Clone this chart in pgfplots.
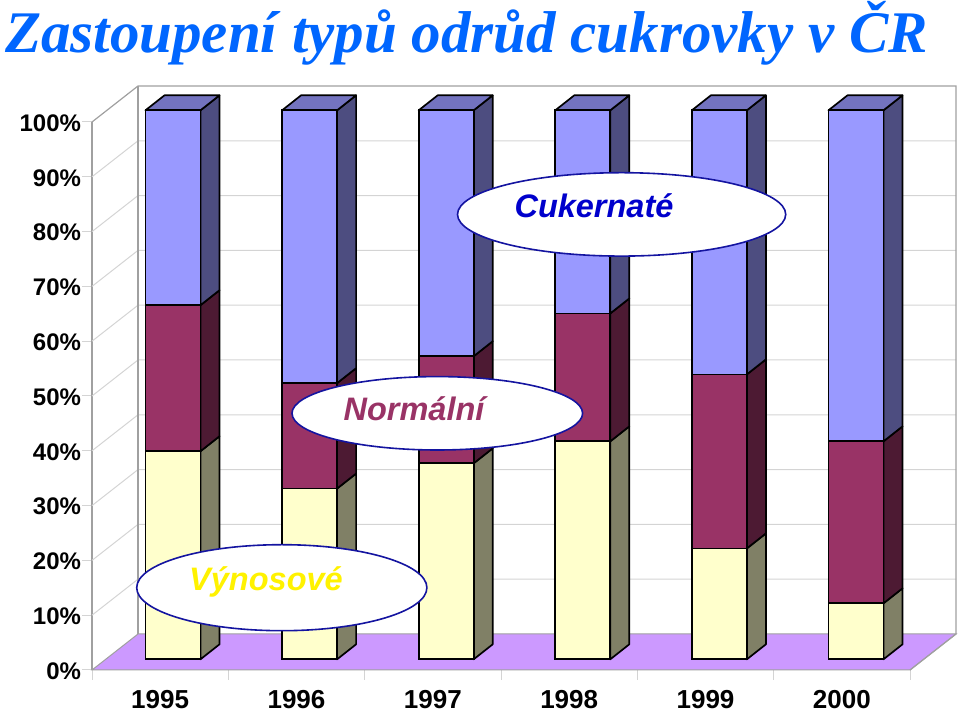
\documentclass[border=0pt]{standalone}
\usepackage{pgfplots}
\pgfplotsset{compat=1.18}
\usepackage{fontspec}
\setmainfont{Liberation Sans}
\newfontfamily\titlefont{Liberation Serif}
\definecolor{cBlue}{HTML}{9999FF}\definecolor{cBlueS}{HTML}{4D4D80}\definecolor{cBlueT}{HTML}{7373BF}
\definecolor{cRed}{HTML}{993366}\definecolor{cRedS}{HTML}{4D1A33}
\definecolor{cYel}{HTML}{FFFFCC}\definecolor{cYelS}{HTML}{808066}
\definecolor{cFloor}{HTML}{CC99FF}\definecolor{cGrid}{HTML}{D4D4D4}\definecolor{cWall}{HTML}{A0A0A0}
\definecolor{cTitle}{HTML}{0066FF}\definecolor{cEdge}{HTML}{1414A0}\definecolor{cCuk}{HTML}{0000CC}
\pgfplotsset{
 barplane/.style={
  scale only axis, at={(104.7pt,54.7pt)}, anchor=south west,
  width=819.6pt, height=549pt, xmin=-0.5, xmax=5.5, ymin=0, ymax=100,
  clip=false, hide axis},
 sd/.style={draw=black, line width=1.7pt, line join=round, mark=none, fill=#1, forget plot},
 wallg/.style={draw=cGrid, line width=1pt, mark=none, forget plot}}
\begin{document}
\begin{tikzpicture}[x=1pt,y=1pt]
\path[use as bounding box] (0,0) rectangle (960,714);
\node[anchor=base west, inner sep=0pt, text=cTitle, font=\fontsize{59}{59}\selectfont\titlefont\bfseries\itshape] at (5,661) {Zastoupení typů odrůd cukrovky v ČR};
% walls, floor, grid and the value axis
\begin{axis}[scale only axis, at={(92pt,44pt)}, anchor=south west, width=818pt, height=548pt,
  xmin=0, xmax=6, ymin=0, ymax=100, clip=false,
  axis x line=bottom, axis y line=left, axis line style={draw=none, -},
  x axis line style={draw=none}, y axis line style={draw=cWall, line width=1.2pt},
  tick align=outside, major tick length=10pt, tick style={draw=cGrid, line width=1pt},
  xtick={0,1,2,3,4,5,6}, x tick label as interval=true,
  xticklabels={1995,1996,1997,1998,1999,2000},
  ytick={0,10,20,30,40,50,60,70,80,90,100},
  yticklabels={0\%,10\%,20\%,30\%,40\%,50\%,60\%,70\%,80\%,90\%,100\%},
  y tick label style={font=\fontsize{24}{24}\selectfont\bfseries, xshift=2.5pt, yshift=-1pt},
  x tick label style={font=\fontsize{26}{26}\selectfont\bfseries, inner sep=0pt, yshift=-10pt}]
\addplot[draw=cWall, line width=1pt, fill=cFloor, mark=none, forget plot] coordinates {(0,0)(0.3374,6.57)(6.3374,6.57)(6,0)} -- cycle;
\addplot[wallg] coordinates {(0,10)(0.3374,16.57)(6.3374,16.57)};
\addplot[wallg] coordinates {(0,20)(0.3374,26.57)(6.3374,26.57)};
\addplot[wallg] coordinates {(0,30)(0.3374,36.57)(6.3374,36.57)};
\addplot[wallg] coordinates {(0,40)(0.3374,46.57)(6.3374,46.57)};
\addplot[wallg] coordinates {(0,50)(0.3374,56.57)(6.3374,56.57)};
\addplot[wallg] coordinates {(0,60)(0.3374,66.57)(6.3374,66.57)};
\addplot[wallg] coordinates {(0,70)(0.3374,76.57)(6.3374,76.57)};
\addplot[wallg] coordinates {(0,80)(0.3374,86.57)(6.3374,86.57)};
\addplot[wallg] coordinates {(0,90)(0.3374,96.57)(6.3374,96.57)};
\addplot[draw=cWall, line width=1.2pt, mark=none, forget plot] coordinates {(0,100)(0.3374,106.57)(6.3374,106.57)(6.3374,6.57)(6,0)};
\addplot[draw=cWall, line width=1.2pt, mark=none, forget plot] coordinates {(0.3374,6.57)(0.3374,106.57)};
\end{axis}
% side and top faces of the bars
\begin{axis}[barplane]
\addplot[sd=cYelS] coordinates {(0.2013,0)(0.3404,2.73)(0.3404,40.63)(0.2013,37.9)} -- cycle;
\addplot[sd=cYelS] coordinates {(1.2013,0)(1.3404,2.73)(1.3404,33.83)(1.2013,31.1)} -- cycle;
\addplot[sd=cYelS] coordinates {(2.2013,0)(2.3404,2.73)(2.3404,38.43)(2.2013,35.7)} -- cycle;
\addplot[sd=cYelS] coordinates {(3.2013,0)(3.3404,2.73)(3.3404,42.43)(3.2013,39.7)} -- cycle;
\addplot[sd=cYelS] coordinates {(4.2013,0)(4.3404,2.73)(4.3404,22.93)(4.2013,20.2)} -- cycle;
\addplot[sd=cYelS] coordinates {(5.2013,0)(5.3404,2.73)(5.3404,12.93)(5.2013,10.2)} -- cycle;
\addplot[sd=cRedS] coordinates {(0.2013,37.9)(0.3404,40.63)(0.3404,67.23)(0.2013,64.5)} -- cycle;
\addplot[sd=cRedS] coordinates {(1.2013,31.1)(1.3404,33.83)(1.3404,53.03)(1.2013,50.3)} -- cycle;
\addplot[sd=cRedS] coordinates {(2.2013,35.7)(2.3404,38.43)(2.3404,57.93)(2.2013,55.2)} -- cycle;
\addplot[sd=cRedS] coordinates {(3.2013,39.7)(3.3404,42.43)(3.3404,65.73)(3.2013,63.0)} -- cycle;
\addplot[sd=cRedS] coordinates {(4.2013,20.2)(4.3404,22.93)(4.3404,54.63)(4.2013,51.9)} -- cycle;
\addplot[sd=cRedS] coordinates {(5.2013,10.2)(5.3404,12.93)(5.3404,42.43)(5.2013,39.7)} -- cycle;
\addplot[sd=cBlueS] coordinates {(0.2013,64.5)(0.3404,67.23)(0.3404,102.73)(0.2013,100)} -- cycle;
\addplot[sd=cBlueS] coordinates {(1.2013,50.3)(1.3404,53.03)(1.3404,102.73)(1.2013,100)} -- cycle;
\addplot[sd=cBlueS] coordinates {(2.2013,55.2)(2.3404,57.93)(2.3404,102.73)(2.2013,100)} -- cycle;
\addplot[sd=cBlueS] coordinates {(3.2013,63.0)(3.3404,65.73)(3.3404,102.73)(3.2013,100)} -- cycle;
\addplot[sd=cBlueS] coordinates {(4.2013,51.9)(4.3404,54.63)(4.3404,102.73)(4.2013,100)} -- cycle;
\addplot[sd=cBlueS] coordinates {(5.2013,39.7)(5.3404,42.43)(5.3404,102.73)(5.2013,100)} -- cycle;
\addplot[sd=cBlueT] coordinates {(-0.2013,100)(-0.0622,102.73)(0.3404,102.73)(0.2013,100)} -- cycle;
\addplot[sd=cBlueT] coordinates {(0.7987,100)(0.9378,102.73)(1.3404,102.73)(1.2013,100)} -- cycle;
\addplot[sd=cBlueT] coordinates {(1.7987,100)(1.9378,102.73)(2.3404,102.73)(2.2013,100)} -- cycle;
\addplot[sd=cBlueT] coordinates {(2.7987,100)(2.9378,102.73)(3.3404,102.73)(3.2013,100)} -- cycle;
\addplot[sd=cBlueT] coordinates {(3.7987,100)(3.9378,102.73)(4.3404,102.73)(4.2013,100)} -- cycle;
\addplot[sd=cBlueT] coordinates {(4.7987,100)(4.9378,102.73)(5.3404,102.73)(5.2013,100)} -- cycle;
\end{axis}
% front faces: stacked shares
\begin{axis}[barplane, ybar stacked, bar width=55pt]
\addplot[draw=black, line width=1.7pt, fill=cYel] coordinates {(0,37.9)(1,31.1)(2,35.7)(3,39.7)(4,20.2)(5,10.2)};
\addplot[draw=black, line width=1.7pt, fill=cRed] coordinates {(0,26.6)(1,19.2)(2,19.5)(3,23.3)(4,31.7)(5,29.5)};
\addplot[draw=black, line width=1.7pt, fill=cBlue] coordinates {(0,35.5)(1,49.7)(2,44.8)(3,37.0)(4,48.1)(5,60.3)};
\end{axis}
% callouts
\draw[draw=cEdge, line width=1.6pt, fill=white] (621.6,499.6) ellipse [x radius=164.1, y radius=41.7];
\node[anchor=base, inner sep=0pt, text=cCuk, font=\fontsize{32.5}{32.5}\selectfont\bfseries\itshape] at (594,496) {Cukernaté};
\draw[draw=cEdge, line width=1.6pt, fill=white] (437.3,300.7) ellipse [x radius=145.3, y radius=36.7];
\node[anchor=base, inner sep=0pt, text=cRed, font=\fontsize{32.5}{32.5}\selectfont\bfseries\itshape] at (414,293) {Normální};
\draw[draw=cEdge, line width=1.6pt, fill=white] (281.8,126.3) ellipse [x radius=145.1, y radius=43];
\node[anchor=base, inner sep=0pt, text=yellow, font=\fontsize{32.5}{32.5}\selectfont\bfseries\itshape] at (266,123.3) {Výnosové};
\end{tikzpicture}
\end{document}
